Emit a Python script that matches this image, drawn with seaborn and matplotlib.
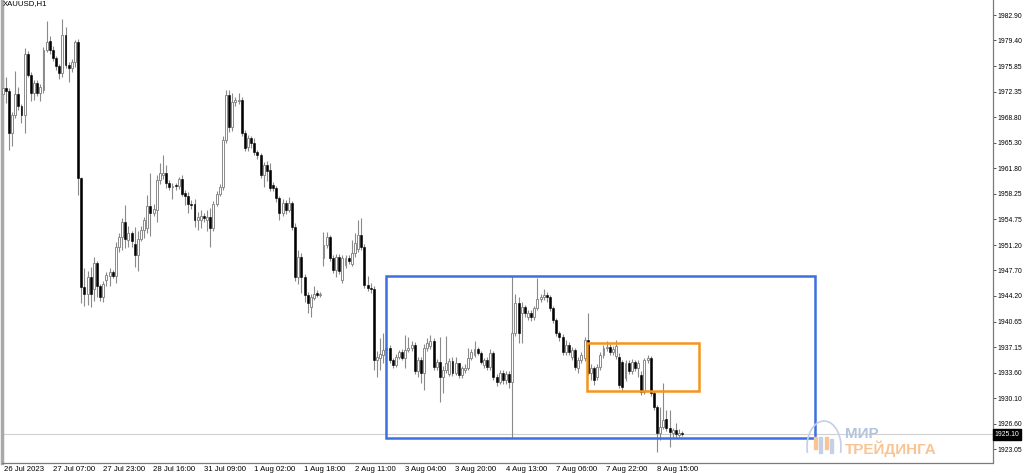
import numpy as np
import pandas as pd
import matplotlib
matplotlib.use("Agg")
import matplotlib.pyplot as plt
import matplotlib.transforms as mtransforms
from matplotlib.patches import Rectangle, Arc
import seaborn as sns

# ==========================
# DATA  (XAUUSD H1)
# ==========================

opens = [
    1972.0, 1972.8, 1972.4, 1966.6, 1969.1, 1972.0, 1970.4, 1969.1, 1977.5, 1974.6,
    1972.2, 1973.5, 1972.2, 1972.6, 1978.1, 1979.3, 1978.1, 1977.0, 1975.9, 1974.9,
    1980.1, 1976.0, 1975.6, 1976.4, 1979.2, 1960.4, 1945.4, 1944.4, 1946.8, 1945.2,
    1948.7, 1945.5, 1944.0, 1946.4, 1947.0, 1947.5, 1947.0, 1951.0, 1952.3, 1954.4,
    1951.9, 1952.8, 1951.4, 1949.8, 1952.1, 1953.3, 1953.6, 1956.6, 1955.6, 1956.0,
    1960.2, 1960.9, 1961.2, 1959.8, 1959.2, 1959.4, 1959.3, 1960.3, 1958.4, 1958.0,
    1956.9, 1956.8, 1954.7, 1954.6, 1955.2, 1954.7, 1955.1, 1953.5, 1956.9, 1958.3,
    1959.2, 1965.7, 1971.9, 1967.5, 1970.9, 1971.0, 1971.2, 1966.6, 1964.7, 1965.9,
    1965.3, 1964.0, 1963.6, 1960.9, 1962.2, 1961.6, 1959.5, 1959.1, 1957.7, 1955.6,
    1957.0, 1956.1, 1957.0, 1953.7, 1946.8, 1949.6, 1946.8, 1944.3, 1942.7, 1943.9,
    1944.6, 1944.3, 1949.4, 1951.2, 1952.3, 1949.4, 1947.8, 1949.6, 1946.4, 1948.5,
    1949.4, 1948.6, 1950.1, 1950.6, 1952.6, 1951.0, 1945.7, 1945.3, 1945.1, 1935.4,
    1935.6, 1936.0, 1936.7, 1937.0, 1935.3, 1934.7, 1935.8, 1936.4, 1935.7, 1936.8,
    1937.0, 1937.4, 1933.9, 1935.4, 1933.6, 1937.0, 1937.3, 1938.0, 1934.4, 1935.1,
    1933.0, 1934.0, 1933.5, 1935.2, 1933.6, 1934.9, 1933.3, 1934.0, 1934.3, 1935.6,
    1936.1, 1936.9, 1936.3, 1934.7, 1935.4, 1934.4, 1936.3, 1933.0, 1932.3, 1933.6,
    1932.6, 1933.4, 1932.3, 1939.1, 1943.2, 1941.8, 1942.7, 1941.3, 1941.9, 1941.3,
    1942.5, 1943.8, 1944.0, 1944.3, 1944.0, 1942.5, 1940.9, 1939.1, 1938.5, 1936.5,
    1937.4, 1935.8, 1936.7, 1934.3, 1935.4, 1935.6, 1938.1, 1933.6, 1934.3, 1933.0,
    1934.4, 1936.0, 1937.0, 1937.2, 1936.4, 1935.9, 1935.8, 1935.1, 1932.9, 1935.0,
    1933.8, 1935.1, 1934.2, 1933.3, 1931.0, 1935.3, 1935.6, 1930.8, 1928.9, 1925.3,
    1926.1, 1927.3, 1926.0, 1925.3, 1925.7, 1925.0, 1925.3,
]

highs = [
    1974.4, 1974.4, 1972.9, 1969.5, 1975.2, 1973.0, 1970.6, 1978.4, 1977.9, 1975.0,
    1973.9, 1974.0, 1973.4, 1978.5, 1982.1, 1980.0, 1978.6, 1977.2, 1976.2, 1982.3,
    1981.2, 1976.4, 1976.8, 1979.4, 1979.6, 1960.6, 1948.0, 1947.6, 1948.2, 1949.6,
    1949.0, 1945.9, 1946.2, 1947.5, 1948.1, 1947.8, 1951.6, 1952.8, 1954.9, 1956.7,
    1953.8, 1953.2, 1953.7, 1953.2, 1953.8, 1955.0, 1958.1, 1961.2, 1956.8, 1960.8,
    1962.5, 1963.6, 1962.2, 1960.1, 1959.8, 1959.7, 1960.6, 1960.8, 1958.8, 1958.5,
    1957.4, 1957.6, 1955.8, 1956.0, 1955.6, 1956.0, 1956.3, 1957.3, 1958.6, 1959.6,
    1966.2, 1972.6, 1972.6, 1972.2, 1971.6, 1972.2, 1971.6, 1967.0, 1966.3, 1966.2,
    1966.0, 1964.3, 1963.9, 1962.6, 1962.8, 1962.5, 1959.9, 1959.4, 1958.0, 1957.5,
    1957.4, 1957.8, 1957.3, 1954.3, 1950.5, 1950.1, 1947.2, 1944.8, 1944.4, 1945.6,
    1945.0, 1944.8, 1953.0, 1953.0, 1952.6, 1949.8, 1950.0, 1950.0, 1949.8, 1949.9,
    1949.8, 1951.9, 1952.9, 1954.7, 1954.9, 1951.3, 1946.9, 1946.0, 1945.6, 1936.6,
    1938.4, 1939.1, 1937.6, 1937.4, 1935.6, 1936.2, 1936.8, 1936.9, 1938.8, 1938.6,
    1938.0, 1937.8, 1935.8, 1935.8, 1937.6, 1938.4, 1938.8, 1938.4, 1935.5, 1938.5,
    1934.5, 1938.7, 1935.6, 1935.8, 1935.8, 1935.0, 1934.6, 1934.8, 1937.0, 1936.9,
    1938.0, 1937.2, 1936.6, 1935.7, 1935.8, 1936.9, 1936.6, 1933.4, 1934.0, 1934.0,
    1933.9, 1933.8, 1946.9, 1944.5, 1944.0, 1943.3, 1943.0, 1942.3, 1942.2, 1942.8,
    1946.7, 1944.5, 1945.2, 1944.7, 1944.3, 1942.8, 1941.2, 1939.4, 1938.9, 1938.1,
    1937.8, 1937.1, 1937.0, 1935.8, 1936.4, 1938.5, 1941.8, 1934.8, 1934.6, 1934.8,
    1936.4, 1937.4, 1938.0, 1937.5, 1937.3, 1938.1, 1936.3, 1935.4, 1935.4, 1935.3,
    1935.5, 1935.4, 1935.3, 1933.8, 1935.6, 1936.0, 1935.9, 1931.1, 1929.2, 1928.9,
    1932.2, 1928.5, 1928.5, 1926.0, 1926.7, 1925.8, 1925.6,
]

lows = [
    1971.6, 1970.8, 1964.3, 1964.8, 1968.7, 1969.8, 1968.0, 1966.6, 1974.3, 1971.0,
    1971.2, 1971.8, 1971.0, 1972.2, 1977.8, 1977.5, 1976.5, 1975.3, 1974.1, 1974.3,
    1975.6, 1973.7, 1975.1, 1975.8, 1958.1, 1943.2, 1942.8, 1943.0, 1942.6, 1943.5,
    1944.1, 1943.5, 1943.4, 1945.6, 1945.6, 1946.6, 1946.0, 1950.2, 1950.5, 1950.8,
    1950.9, 1951.0, 1948.2, 1947.6, 1951.8, 1952.2, 1952.9, 1952.4, 1955.2, 1954.4,
    1959.6, 1960.3, 1959.1, 1958.8, 1957.6, 1958.8, 1958.9, 1957.9, 1956.7, 1955.6,
    1956.2, 1953.7, 1953.3, 1953.5, 1954.4, 1953.2, 1951.0, 1953.1, 1956.6, 1958.0,
    1958.8, 1965.2, 1966.8, 1966.9, 1970.4, 1970.6, 1966.2, 1964.1, 1964.2, 1964.6,
    1963.6, 1963.0, 1960.4, 1959.2, 1960.0, 1958.7, 1958.6, 1957.2, 1954.7, 1955.2,
    1955.5, 1955.8, 1953.3, 1946.2, 1945.9, 1944.6, 1943.4, 1941.8, 1941.3, 1943.6,
    1944.1, 1944.0, 1948.3, 1950.8, 1949.0, 1947.4, 1946.8, 1947.2, 1946.0, 1948.0,
    1948.6, 1948.3, 1949.6, 1950.2, 1950.5, 1945.3, 1944.9, 1944.6, 1934.0, 1933.0,
    1934.0, 1935.0, 1936.2, 1934.9, 1934.3, 1934.4, 1935.5, 1935.3, 1934.2, 1936.4,
    1936.6, 1933.5, 1933.0, 1932.2, 1931.2, 1936.6, 1936.9, 1934.0, 1934.0, 1929.6,
    1930.8, 1933.6, 1933.1, 1933.1, 1933.3, 1932.9, 1932.9, 1933.6, 1934.0, 1935.3,
    1935.8, 1936.0, 1934.8, 1934.3, 1934.0, 1934.0, 1932.6, 1931.8, 1932.0, 1932.1,
    1932.0, 1931.5, 1924.6, 1938.7, 1937.7, 1937.7, 1941.3, 1940.9, 1940.8, 1940.9,
    1942.2, 1943.4, 1943.6, 1943.3, 1942.1, 1940.5, 1938.7, 1938.0, 1936.0, 1936.0,
    1936.1, 1935.4, 1934.0, 1933.6, 1935.0, 1935.2, 1933.3, 1932.6, 1931.9, 1932.6,
    1934.0, 1935.7, 1936.6, 1936.0, 1936.0, 1935.5, 1931.5, 1931.2, 1932.5, 1933.4,
    1933.4, 1933.8, 1933.0, 1930.6, 1930.7, 1934.9, 1930.4, 1928.5, 1922.7, 1924.3,
    1925.8, 1925.6, 1923.4, 1924.8, 1924.6, 1924.7, 1924.9,
]

closes = [
    1972.8, 1972.4, 1966.6, 1969.1, 1972.0, 1970.4, 1969.1, 1977.5, 1974.6, 1972.2,
    1973.5, 1972.2, 1973.0, 1978.1, 1979.2, 1978.1, 1977.0, 1975.9, 1974.9, 1980.1,
    1976.0, 1975.6, 1976.4, 1979.2, 1960.4, 1945.4, 1944.4, 1946.8, 1944.4, 1948.7,
    1945.5, 1944.1, 1945.8, 1947.1, 1947.5, 1947.0, 1951.0, 1952.3, 1954.4, 1952.0,
    1952.8, 1951.7, 1949.8, 1952.1, 1953.3, 1954.6, 1956.6, 1955.6, 1956.2, 1960.2,
    1961.1, 1961.2, 1959.8, 1959.2, 1959.4, 1959.3, 1960.3, 1958.2, 1958.0, 1956.9,
    1956.7, 1954.7, 1955.1, 1955.2, 1954.9, 1955.1, 1953.5, 1956.9, 1958.3, 1959.2,
    1965.7, 1971.9, 1967.5, 1970.9, 1971.2, 1971.2, 1966.6, 1964.6, 1965.9, 1965.3,
    1964.0, 1963.6, 1960.9, 1962.2, 1961.4, 1959.1, 1959.1, 1957.7, 1955.6, 1957.0,
    1956.0, 1957.0, 1953.7, 1946.8, 1949.6, 1946.8, 1944.3, 1943.2, 1944.0, 1944.4,
    1944.3, 1944.5, 1951.2, 1952.3, 1949.4, 1947.8, 1949.6, 1947.6, 1949.4, 1949.4,
    1949.0, 1950.1, 1951.5, 1952.6, 1950.9, 1945.7, 1945.3, 1945.1, 1935.4, 1935.8,
    1936.2, 1936.7, 1937.0, 1935.3, 1934.7, 1935.8, 1936.4, 1935.7, 1936.8, 1937.0,
    1937.4, 1933.9, 1935.4, 1933.6, 1937.0, 1937.7, 1938.0, 1934.4, 1935.1, 1933.0,
    1934.0, 1935.0, 1935.2, 1933.6, 1934.9, 1933.3, 1934.3, 1934.3, 1935.6, 1936.5,
    1936.9, 1936.3, 1935.1, 1935.4, 1934.4, 1936.3, 1933.0, 1932.3, 1933.6, 1932.6,
    1933.4, 1932.3, 1939.1, 1943.2, 1939.1, 1942.7, 1941.8, 1941.9, 1941.3, 1942.5,
    1943.8, 1944.0, 1944.3, 1944.0, 1942.5, 1940.9, 1939.1, 1938.5, 1936.5, 1937.4,
    1936.5, 1936.7, 1934.4, 1935.4, 1936.0, 1938.1, 1933.6, 1934.3, 1932.6, 1934.4,
    1936.0, 1937.0, 1937.2, 1936.4, 1936.9, 1937.3, 1931.9, 1931.6, 1935.0, 1933.8,
    1935.1, 1934.2, 1935.0, 1931.0, 1935.3, 1935.6, 1930.8, 1928.9, 1925.3, 1926.1,
    1927.1, 1926.0, 1925.5, 1925.7, 1925.1, 1925.3, 1925.1,
]

x_labels = ["26 Jul 2023", "27 Jul 07:00", "27 Jul 23:00", "28 Jul 16:00",
            "31 Jul 09:00", "1 Aug 02:00", "1 Aug 18:00", "2 Aug 11:00",
            "3 Aug 04:00", "3 Aug 20:00", "4 Aug 13:00", "7 Aug 06:00",
            "7 Aug 22:00", "8 Aug 15:00"]

y_levels = [1982.90, 1979.40, 1975.85, 1972.35, 1968.80, 1965.30, 1961.80,
            1958.25, 1954.75, 1951.20, 1947.70, 1944.20, 1940.65, 1937.15,
            1933.60, 1930.10, 1926.60, 1923.05]

last_price = 1925.10

# zones drawn on the chart: (first bar, last bar, low price, high price)
blue_zone = (121.9, 258.2, 1924.57, 1946.98)
orange_zone = (185.9, 221.4, 1931.13, 1937.65)

# ==========================
# FRAME
# ==========================

bars = pd.DataFrame({"open": opens, "high": highs, "low": lows, "close": closes})
bars["bar"] = np.arange(len(bars))

up = bars[bars["close"] >= bars["open"]]
dn = bars[bars["close"] < bars["open"]]

sns.set_theme(style="white")
plt.rcParams["font.family"] = ["Liberation Sans", "DejaVu Sans"]

fig = plt.figure(figsize=(10.24, 4.73), dpi=100, facecolor="white")
ax = fig.add_axes([1.5 / 1024, 10.5 / 473, 991 / 1024, 462.5 / 473])
ax.set_facecolor("white")

# ==========================
# CANDLES
# ==========================

ax.vlines(bars["bar"], bars["low"], bars["high"], color="#8a8a8a", lw=0.8, zorder=2)

ax.bar(dn["bar"], (dn["open"] - dn["close"]).clip(lower=0.12), bottom=dn["close"],
       width=0.62, color="black", edgecolor="black", lw=0.4, zorder=3)
ax.bar(up["bar"], (up["close"] - up["open"]).clip(lower=0.12), bottom=up["open"],
       width=0.62, color="white", edgecolor="#8a8a8a", lw=0.7, zorder=3)

ax.axhline(last_price, color="#d0d0d0", lw=0.8, zorder=1)

for zone, col in [(blue_zone, "#3d6fe3"), (orange_zone, "#f7941d")]:
    x0, x1, y0, y1 = zone
    ax.add_patch(Rectangle((x0, y0), x1 - x0, y1 - y0, fill=False,
                           edgecolor=col, lw=1.8, zorder=4))

# ==========================
# AXES
# ==========================

ax.set_xlim(-0.35, 314.65)
ax.set_ylim(1921.24, 1984.97)

ax.spines["top"].set_visible(False)
ax.spines["right"].set_color("#7a7a7a")
ax.spines["bottom"].set_color("#7a7a7a")
ax.spines["left"].set_color("#a8a8a8")
ax.spines["left"].set_linewidth(2.5)
for side in ["right", "bottom"]:
    ax.spines[side].set_linewidth(0.9)

ax.yaxis.tick_right()
ax.set_yticks(y_levels)
ax.set_yticklabels([f"{v:.2f}" for v in y_levels])
ax.tick_params(axis="y", direction="out", length=2.2, width=0.7, colors="#555555",
               labelcolor="black", labelsize=4.9, pad=1.6)

tick_pos = [-0.35] + [16 * k - 0.8 for k in range(1, len(x_labels))]
ax.set_xticks(tick_pos)
ax.set_xticklabels(x_labels, ha="left")
ax.tick_params(axis="x", direction="out", length=2.0, width=0.7, colors="#555555",
               labelcolor="black", labelsize=5.6, pad=0.4)
shift = mtransforms.ScaledTranslation(2.2 / 100, 0, fig.dpi_scale_trans)
for lab in ax.get_xticklabels():
    lab.set_transform(lab.get_transform() + shift)

ax.grid(False)

# last price tag
ax.text(1.002, last_price, f"{last_price:.2f}", color="white", fontsize=4.9,
        ha="left", va="center",
        transform=mtransforms.blended_transform_factory(ax.transAxes, ax.transData),
        bbox=dict(boxstyle="square,pad=0.25", fc="black", ec="black"), clip_on=False)

fig.text(3 / 1024, 1 - 3.5 / 473, "XAUUSD,H1", fontsize=5.6, color="black",
         ha="left", va="center")

# ==========================
# WATERMARK
# ==========================

fig.text(845 / 1024, 1 - 438 / 473, "МИР", fontsize=11, weight="bold",
         color="#b3c4dd", ha="left", va="baseline")
fig.text(845 / 1024, 1 - 454 / 473, "ТРЕЙДИНГА", fontsize=11, weight="bold",
         color="#f9c493", ha="left", va="baseline")
fig.add_artist(Arc((824, 473 - 447), 34, 52, theta1=-20, theta2=200,
                   color="#c3d0e6", lw=1.2, transform=None))
for cx, cy, h, col in [(815, 30, 12, "#f9c493"), (820, 28, 16, "#c3d0e6"),
                       (826, 30, 12, "#f9c493"), (831, 27, 14, "#c3d0e6")]:
    fig.add_artist(Rectangle((cx - 1.5, cy - h / 2), 3, h, color=col, transform=None))

plt.savefig("out.png", dpi=100, facecolor="white")
